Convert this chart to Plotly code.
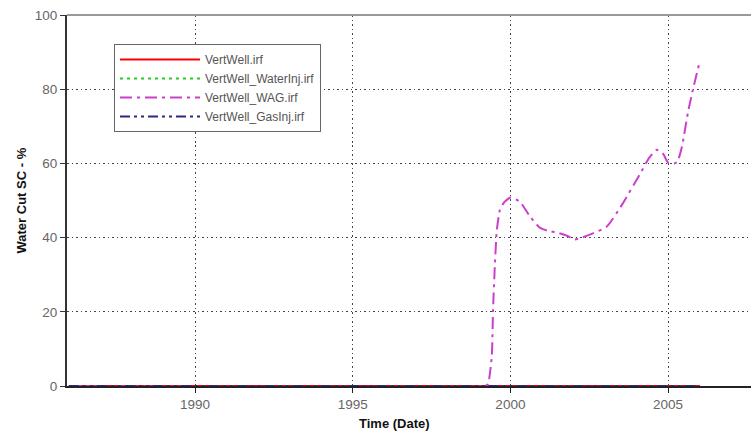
import plotly.graph_objects as go

# ---- data ----
base_years = [1986.0, 2006.0]
vertwell = [0, 0]
waterinj = [0, 0]
gasinj = [0, 0]

wag_years = [1986.0, 1999.2, 1999.29, 1999.41, 1999.45, 1999.51, 1999.57, 1999.67, 1999.8,
             2000.0, 2000.3, 2000.62, 2000.93, 2001.2, 2001.47, 2001.8, 2002.04, 2002.52,
             2003.06, 2003.57, 2004.1, 2004.4, 2004.64, 2004.85, 2005.0, 2005.2, 2005.3,
             2005.44, 2005.63, 2005.79, 2005.98]
wag_vals = [0, 0, 0.5, 8, 20.6, 33, 42, 47.5, 49.5,
            50.8, 49.7, 45.7, 42.7, 41.8, 41.4, 40.5, 39.5, 40.8,
            43, 49.3, 57, 61.5, 63.7, 62.5, 60.2, 60, 60.5,
            64.5, 73.7, 80, 86.6]

x_ticks = [1990, 1995, 2000, 2005]
y_ticks = [0, 20, 40, 60, 80, 100]

names = ["VertWell.irf", "VertWell_WaterInj.irf", "VertWell_WAG.irf", "VertWell_GasInj.irf"]

fig = go.Figure()
fig.add_trace(go.Scatter(x=base_years, y=vertwell, mode="lines", name=names[0],
                         line=dict(color="#ff0000", width=2)))
fig.add_trace(go.Scatter(x=base_years, y=waterinj, mode="lines", name=names[1],
                         line=dict(color="#22cc22", width=2, dash="3px,4px")))
fig.add_trace(go.Scatter(x=wag_years, y=wag_vals, mode="lines", name=names[2],
                         line=dict(color="#cc3fcc", width=2, dash="12px,5px,3px,5px",
                                   shape="spline", smoothing=0.5)))
fig.add_trace(go.Scatter(x=base_years, y=gasinj, mode="lines", name=names[3],
                         line=dict(color="#2a2a80", width=2, dash="10px,4px,3px,4px,3px,4px")))

axis_font = dict(family="Liberation Sans, Arial, sans-serif", size=13.5, color="#666666")

fig.update_xaxes(range=[1985.94, 2007.63], tickvals=x_ticks, ticktext=[str(t) for t in x_ticks],
                 showgrid=True, gridcolor="#444444", griddash="1.5px,3px", gridwidth=1.2,
                 showline=True, linecolor="#222222", linewidth=2,
                 ticks="outside", ticklen=5, tickcolor="#222222", tickwidth=1,
                 tickfont=axis_font, zeroline=False)
fig.update_yaxes(range=[0, 100], tickvals=y_ticks,
                 showgrid=True, gridcolor="#444444", griddash="1.5px,3px", gridwidth=1.2,
                 showline=True, linecolor="#333333", linewidth=2,
                 ticks="outside", ticklen=5, tickcolor="#333333", tickwidth=1,
                 tickfont=axis_font, zeroline=False)

fig.add_shape(type="line", xref="paper", yref="paper", x0=0, x1=1, y0=1, y1=1,
              line=dict(color="#999999", width=2))

title_font = dict(family="Liberation Sans, Arial, sans-serif", size=13, color="#111111")
fig.add_annotation(text="<b>Time (Date)</b>", xref="paper", yref="paper",
                   x=(394 - 67) / 684, y=(386 - 423) / 371, showarrow=False,
                   font=title_font, xanchor="center", yanchor="middle")
fig.add_annotation(text="<b>Water Cut SC - %</b>", xref="paper", yref="paper",
                   x=(21 - 67) / 684, y=0.5, showarrow=False, textangle=-90,
                   font=title_font, xanchor="center", yanchor="middle")

fig.update_layout(
    width=751, height=442,
    margin=dict(l=67, r=0, t=15, b=56),
    plot_bgcolor="white", paper_bgcolor="white",
    showlegend=True,
    legend=dict(x=(114 - 67) / 684, y=(386 - 44) / 371, xanchor="left", yanchor="top",
                bgcolor="white", bordercolor="#666666", borderwidth=1,
                font=dict(family="Liberation Sans, Arial, sans-serif", size=12, color="#555555"),
                itemwidth=80, tracegroupgap=0, entrywidth=222, entrywidthmode="pixels"),
)

fig.write_html("out.html")
